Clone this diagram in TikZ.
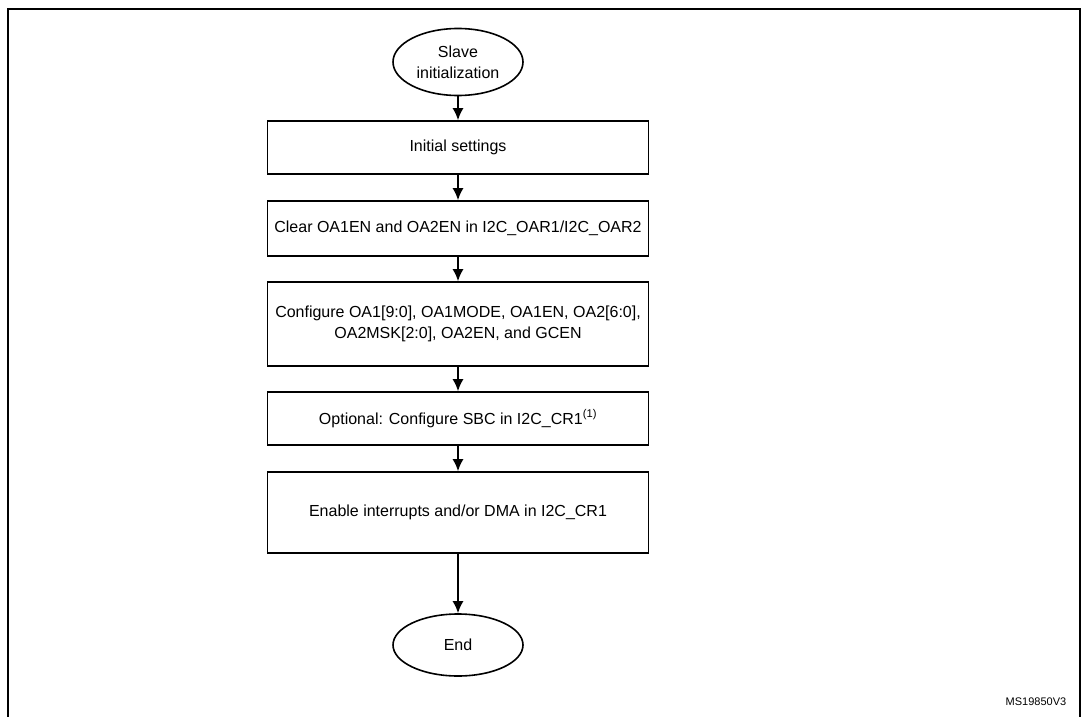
\documentclass[tikz,border=0pt]{standalone}
\usepackage{fontspec}
\setmainfont{Liberation Sans}
\usetikzlibrary{shapes.geometric,arrows.meta}
\begin{document}
\begin{tikzpicture}[x=1pt,y=-1pt,
  box/.style={draw,line width=1.6pt,minimum width=381pt,align=center,font=\fontsize{16}{21}\selectfont},
  term/.style={draw,ellipse,line width=1.6pt,minimum width=130pt,align=center,font=\fontsize{16}{21}\selectfont},
  arr/.style={-{Latex[length=12pt,width=11pt]},line width=1.6pt}]
\useasboundingbox (0,0) rectangle (1089,717);
\draw[line width=1.4pt] (8,725) -- (8,9) -- (1080,9) -- (1080,725);
\node[term,minimum height=67pt] (s) at (458,62) {Slave\\initialization};
\node[box,minimum height=53pt] (b1) at (458,147.5) {Initial settings};
\node[box,minimum height=55pt] (b2) at (458,228.5) {Clear OA1EN and OA2EN in I2C\_OAR1/I2C\_OAR2};
\node[box,minimum height=84pt] (b3) at (458,324) {Configure OA1[9:0], OA1MODE, OA1EN, OA2[6:0],\\OA2MSK[2:0], OA2EN, and GCEN};
\node[box,minimum height=53pt] (b4) at (458,418.5) {Optional: Configure SBC in I2C\_CR1\textsuperscript{(1)}};
\node[box,minimum height=81pt] (b5) at (458,512.5) {Enable interrupts and/or DMA in I2C\_CR1};
\node[term,minimum height=62pt] (e) at (458,645) {End};
\node[font=\fontsize{11}{13}\selectfont] (id) at (1036,702) {MS19850V3};
\foreach \a/\b in {s/b1,b1/b2,b2/b3,b3/b4,b4/b5,b5/e} \draw[arr] (\a) -- (\b);
\end{tikzpicture}
\end{document}
